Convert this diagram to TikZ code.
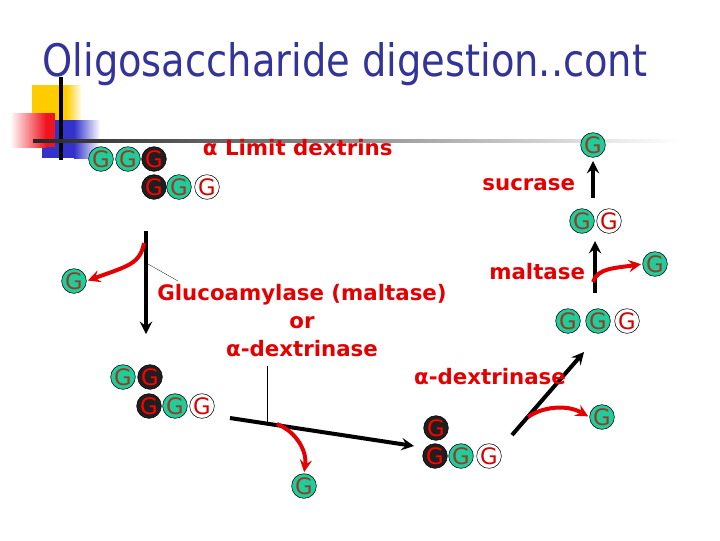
\documentclass[tikz,border=0pt]{standalone}
\usepackage{fontspec}
\setmainfont{DejaVu Sans}
\usetikzlibrary{positioning}
\definecolor{titleblue}{RGB}{51,51,153}
\definecolor{gteal}{RGB}{32,204,153}
\definecolor{gbrown}{RGB}{150,60,40}
\definecolor{enzred}{RGB}{228,0,0}
\definecolor{decoyellow}{RGB}{255,204,0}
\definecolor{decoblue}{RGB}{51,51,204}
\definecolor{decored}{RGB}{240,20,30}

\begin{document}
\begin{tikzpicture}[x=0.75pt, y=-0.75pt, >=stealth, thick,
    glu/.style={circle, draw=black, thin, minimum size=18.5pt, inner sep=0pt, font=\fontsize{17}{17}\selectfont},
    teal g/.style={glu, fill=gteal, text=gbrown},
    dark g/.style={glu, fill=black!88, text=red},
    pale g/.style={glu, fill=white, text=red!85!black},
    enzyme/.style={text=enzred, font=\bfseries\fontsize{16}{21}\selectfont, align=center},
    main arrow/.style={->, line width=3pt},
    split arrow/.style={->, line width=3pt, enzred, shorten >=1pt},
    leader/.style={draw, very thin}]

  \useasboundingbox (0,0) rectangle (720,540);

  % Title and corner decoration
  \node[anchor=base west, text=titleblue, inner sep=0pt] (title) at (42,76)
    {\fontsize{32}{32}\selectfont\scalebox{0.9}[1.05]{Oligosaccharide digestion..cont}};
  \fill[decoyellow] (32,85) rectangle (66,120);
  \shade[left color=decoyellow, right color=white] (66,85) rectangle (82,120);
  \fill[decoblue] (42,120) rectangle (74,158);
  \shade[left color=decoblue, right color=white] (74,120) rectangle (100,158);
  \shade[left color=white, right color=decored] (10,113) rectangle (46,147);
  \fill[decored] (46,113) rectangle (55,147);
  \draw[line width=3pt] (61,77) -- (61,160);
  \shade[left color=black!85, right color=white] (33,139.5) rectangle (680,142.5);

  % Limit dextrin
  \node[teal g] (ld1) at (101,159) {G};
  \node[teal g] (ld2) at (128,159) {G};
  \node[dark g] (ld3) at (154,159) {G};
  \node[dark g] (ld4) at (154,187) {G};
  \node[teal g] (ld5) at (179,187) {G};
  \node[pale g] (ld6) at (207,187) {G};
  \node[enzyme, anchor=west] (limit) at (198,148) {α Limit dextrins};

  % Sucrase (top right)
  \node[teal g] (sucg) at (593,145) {G};
  \node[teal g] (gs1) at (582,221) {G};
  \node[pale g] (gs2) at (609,221) {G};
  \node[enzyme, anchor=east] (sucrase) at (580,185) {sucrase};
  \coordinate (suc from) at (593,198);
  \coordinate (suc to) at (593,161);
  \draw[main arrow] (suc from) -- (suc to);

  % Glucoamylase step (left)
  \coordinate (ga from) at (146,231);
  \coordinate (ga to) at (146,334);
  \draw[main arrow] (ga from) -- (ga to);
  \node[teal g] (free1) at (74,281) {G};
  \coordinate (cut1) at (144,243);
  \draw[split arrow] (cut1) .. controls (140,264) and (128,266) .. (free1.east);
  \node[enzyme] (gluco) at (302,321) {Glucoamylase (maltase)\\or\\α-dextrinase};
  \coordinate (ga tick) at (148,264);
  \coordinate (ga tag) at (178,281);
  \draw[leader] (ga tick) -- (ga tag);

  % Level 2 (left)
  \node[teal g] (bl1) at (123,377) {G};
  \node[dark g] (bl2) at (150,377) {G};
  \node[dark g] (bl3) at (149,406) {G};
  \node[teal g] (bl4) at (175,406) {G};
  \node[pale g] (bl5) at (202,406) {G};

  % Long step to the bottom
  \coordinate (low from) at (230,418);
  \coordinate (low to) at (414,446);
  \draw[main arrow] (low from) -- (low to);
  \coordinate (dx tick) at (267,366);
  \coordinate (dx tag) at (267,422);
  \draw[leader] (dx tick) -- (dx tag);
  \node[teal g] (free2) at (304,486) {G};
  \coordinate (cut2) at (277,424);
  \draw[split arrow] (cut2) .. controls (297,432) and (307,452) .. (free2.north);

  % Level 3 (bottom)
  \node[dark g] (bm1) at (436,428) {G};
  \node[dark g] (bm2) at (435,456) {G};
  \node[teal g] (bm3) at (461,456) {G};
  \node[pale g] (bm4) at (489,456) {G};

  % alpha-dextrinase step (right)
  \coordinate (adx from) at (512,435);
  \coordinate (adx to) at (584,352);
  \draw[main arrow] (adx from) -- (adx to);
  \node[enzyme] (adx) at (490,377) {α-dextrinase};
  \node[teal g] (free3) at (602,417) {G};
  \coordinate (cut3) at (528,417);
  \draw[split arrow] (cut3) .. controls (542,407) and (566,404) .. (free3.west);

  % Maltotriose and maltase
  \node[teal g] (r1) at (568,321) {G};
  \node[teal g] (r2) at (598,321) {G};
  \node[pale g] (r3) at (627,321) {G};
  \coordinate (mal from) at (595,293);
  \coordinate (mal to) at (595,241);
  \draw[main arrow] (mal from) -- (mal to);
  \node[enzyme, anchor=east] (maltase) at (590,272) {maltase};
  \node[teal g] (free4) at (655,264) {G};
  \coordinate (cut4) at (593,282);
  \draw[split arrow] (cut4) .. controls (597,268) and (616,268) .. (free4.west);
\end{tikzpicture}
\end{document}
